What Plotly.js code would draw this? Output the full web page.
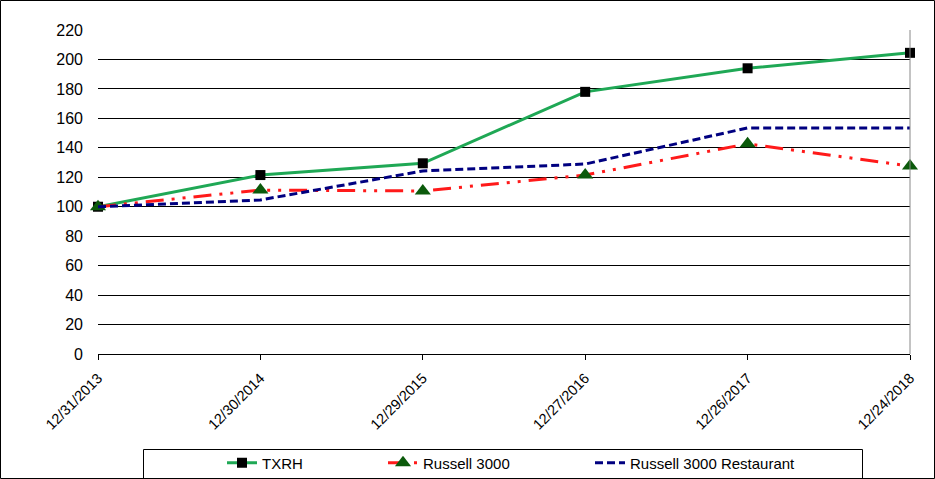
<!DOCTYPE html>
<html><head><meta charset="utf-8">
<script src="https://cdn.plot.ly/plotly-3.0.1.min.js"></script>
<style>html,body{margin:0;padding:0;background:#fff}#g{width:935px;height:479px}</style>
</head><body><div id="g"></div>
<script>
const dates = ["12/31/2013","12/30/2014","12/29/2015","12/27/2016","12/26/2017","12/24/2018"];
const txrh = [100, 121.5, 129.5, 178, 194, 204.5];
const russell3000 = [100, 111.3, 110.7, 121.5, 142.7, 127.6];
const russellRestaurant = [100, 104.6, 124.3, 129, 153.5, 153.5];
const yTicks = [0,20,40,60,80,100,120,140,160,180,200,220];

const L=98, T=30, W=812, H=324;
const px = v => (v - L)/W, py = v => (T + H - v)/H;
const legY = (479-463)/479;
const legCommon = {orientation: "h", xref: "container", yref: "container", xanchor: "left",
  y: legY, yanchor: "middle", borderwidth: 0, bgcolor: "rgba(0,0,0,0)", font: {size: 15}};

const traces = [
  {x: dates, y: txrh, name: "TXRH", mode: "lines+markers", legend: "legend", cliponaxis: false,
   line: {color: "#1fa855", width: 3},
   marker: {symbol: "square", size: 10, color: "#000000"}},
  {x: dates, y: russell3000, name: "Russell 3000", mode: "lines+markers", legend: "legend2", cliponaxis: false,
   line: {color: "#ff1a1a", width: 3, dash: "18px,8px,3px,8px,3px,8px"},
   marker: {symbol: "triangle-up", size: 14, color: "#0b5a0b"}},
  {x: dates, y: russellRestaurant, name: "Russell 3000 Restaurant", mode: "lines", legend: "legend3", cliponaxis: false,
   line: {color: "#000080", width: 3, dash: "8px,4px"}}
];

const layout = {
  width: 935, height: 479,
  margin: {l: L, r: 935 - L - W, t: T, b: 479 - T - H, pad: 0},
  paper_bgcolor: "#fff", plot_bgcolor: "#fff",
  font: {family: "Liberation Sans, Arial, sans-serif", size: 14, color: "#000"},
  showlegend: true,
  xaxis: {type: "category", range: [0, 5], showgrid: false, showline: true, linecolor: "#000", linewidth: 1,
          ticks: "outside", ticklen: 5, tickcolor: "#000", tickangle: -45, ticklabelstandoff: 4,
          tickfont: {size: 14.5}, zeroline: false, fixedrange: true},
  yaxis: {range: [0, 220], tickvals: yTicks, showgrid: true, gridcolor: "#000", gridwidth: 1,
          showline: false, zeroline: false, ticks: "", ticklabelstandoff: 14,
          tickfont: {size: 16}, fixedrange: true},
  legend: Object.assign({}, legCommon, {x: 222/935}),
  legend2: Object.assign({}, legCommon, {x: 383/935}),
  legend3: Object.assign({}, legCommon, {x: 590/935}),
  shapes: [
    {type: "line", xref: "paper", yref: "paper", x0: 1, x1: 1, y0: 0, y1: 1, line: {color: "#888", width: 1}},
    {type: "rect", xref: "paper", yref: "paper", x0: px(143.5), x1: px(862.5), y0: py(449.5), y1: py(495),
     line: {color: "#000", width: 1}, layer: "below"},
    {type: "rect", xref: "paper", yref: "paper", x0: px(0.5), x1: px(934.5), y0: py(0.5), y1: py(478.5),
     line: {color: "#000", width: 1}, layer: "below"}
  ]
};
Plotly.newPlot("g", traces, layout, {staticPlot: true, displayModeBar: false});
</script></body></html>
